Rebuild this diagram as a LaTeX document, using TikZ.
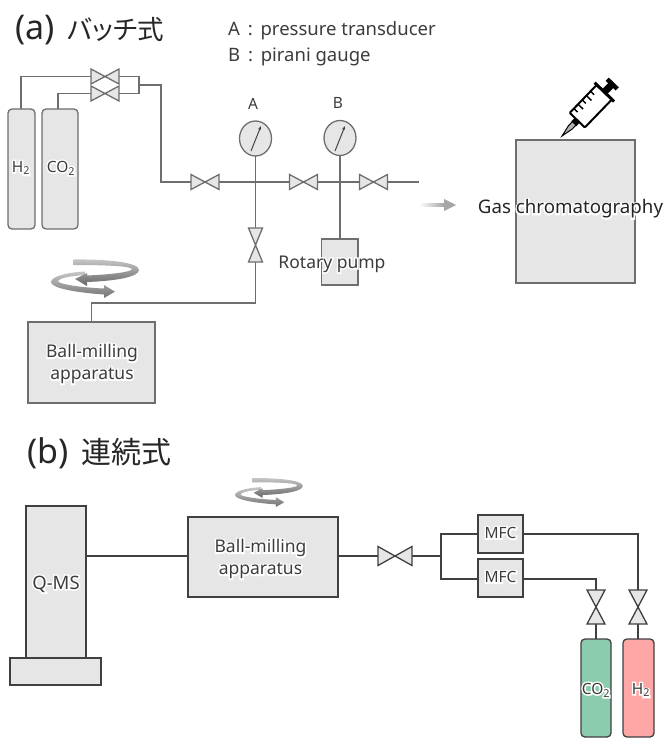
\documentclass[tikz,border=0pt]{standalone}
\usepackage{fontspec}
\setmainfont{Noto Sans}
\newfontfamily\cjk[RawFeature=+palt]{Noto Sans CJK JP}
\usetikzlibrary{arrows.meta,shadings}
\definecolor{pipeA}{HTML}{6E6E6E}
\definecolor{pipeB}{HTML}{404040}
\definecolor{boxfill}{HTML}{E6E6E6}
\definecolor{greencyl}{HTML}{8CCCAE}
\definecolor{redcyl}{HTML}{FFA6A6}
\definecolor{txtA}{HTML}{3C3C3C}
\newcommand{\halo}[1]{\leavevmode\rlap{\special{pdf:code q 1 1 1 rg 1 1 1 RG 2 Tr 3 w}#1\special{pdf:code Q}}#1}
\newcommand{\ttl}[3]{{\fontsize{34}{36}\selectfont #1}\hspace{13pt}{\cjk\fontsize{#3}{36}\selectfont #2}}
\tikzset{
  x=1pt,y=-1pt,
  pipea/.style={draw=pipeA,line width=1.4pt},
  pipeb/.style={draw=pipeB,line width=1.5pt},
  boxa/.style={draw=pipeA,line width=1.3pt,fill=boxfill},
  boxb/.style={draw=pipeB,line width=1.3pt,fill=boxfill},
  lab/.style={inner sep=0pt,text=txtA,align=center,font=\fontsize{17.5}{22}\selectfont},
  lab16/.style={inner sep=0pt,text=txtA,align=center,font=\fontsize{15.5}{18}\selectfont},
  small/.style={inner sep=0pt,text=txtA,font=\fontsize{15.5}{18}\selectfont},
  legend/.style={inner sep=0pt,anchor=west,text=txtA,font=\fontsize{18.5}{22}\selectfont},
  title/.style={inner sep=0pt,anchor=west,text=black!85},
}
\newcommand{\hvalve}[4]{\draw[#4] ({#1-#3},{#2-7.5}) -- ({#1+#3},{#2+7.5}) -- ({#1+#3},{#2-7.5}) -- ({#1-#3},{#2+7.5}) -- cycle;}
\newcommand{\hvalvebig}[4]{\draw[#4] ({#1-#3},{#2-9.5}) -- ({#1+#3},{#2+9.5}) -- ({#1+#3},{#2-9.5}) -- ({#1-#3},{#2+9.5}) -- cycle;}
\newcommand{\vvalve}[4]{\draw[#4] ({#1-#3},{#2-17}) -- ({#1+#3},{#2-17}) -- ({#1-#3},{#2+17}) -- ({#1+#3},{#2+17}) -- cycle;}
\newcommand{\swirl}[4]{% x,y,xscale,yscale
  \begin{scope}[shift={(#1,#2)},xscale=#3,yscale=#4]
   \shade[top color=black!22,bottom color=black!55]
     (40,21.5) .. controls (20,22.5) and (6,27) .. (6,32) .. controls (6,38) and (30,42.5) .. (59,44.5) -- (59,48) -- (70,41.7) -- (59,35) -- (59,38.5) .. controls (35,37.5) and (13,34) .. (13,31) .. controls (15,28) and (25,26) .. (40,25) -- cycle;
   \shade[top color=black!22,bottom color=black!60]
     (28.5,9.5) .. controls (60,9) and (94,12) .. (94,20) .. controls (94,27) and (70,31) .. (42,32) -- (42,36) -- (30,29) -- (42,23) -- (42,25.5) .. controls (65,24.5) and (87,22) .. (87,19) .. controls (85,16) and (60,15) .. (28.5,15) -- cycle;
  \end{scope}}
\begin{document}
\begin{tikzpicture}
\useasboundingbox (0,0) rectangle (665,738);
% ---- (a)
\node[title] (ta) at (15,30) {\ttl{(a)}{バッチ式}{26.5}};
\node[legend] (la) at (228,31) {A\hspace{3pt} : \hspace{3pt}pressure transducer};
\node[legend] (lb) at (228,57) {B\hspace{3pt} : \hspace{3pt}pirani gauge};
\node[small] (ga) at (253,104) {A};
\node[small] (gb) at (338,103) {B};
% pipes
\draw[pipea] (21,109) |- (91,76.5) (118,76.5) -- (139,76.5) -- (139,93.5) -- (118,93.5);
\draw[pipea] (91,93.5) -| (58,109);
\draw[pipea] (139,85) -- (161,85) -- (161,182) -- (419,182);
\draw[pipea] (255.5,156) -- (255.5,303) -- (91.5,303) -- (91.5,322);
\draw[pipea] (340,156) -- (340,239);
% valves
\hvalve{105}{76.5}{14}{boxa}
\hvalve{105}{93.5}{14}{boxa}
\hvalve{205}{182}{14}{boxa}
\hvalve{303.5}{182}{14}{boxa}
\hvalve{373.5}{182}{14}{boxa}
\vvalve{255.5}{245}{7}{boxa}
% cylinders
\draw[boxa,rounded corners=4pt] (8,109) rectangle (35,229);
\draw[boxa,rounded corners=4pt] (42,109) rectangle (78,229);
\node[lab16] (h2a) at (21,168) {\halo{H\textsubscript{2}}};
\node[lab16] (co2a) at (61,168) {\halo{CO\textsubscript{2}}};
% gauges
\draw[boxa] (255.5,138.5) ellipse [x radius=16,y radius=17.5];
\draw[boxa] (340,138) ellipse [x radius=16,y radius=17.5];
\draw[pipeB,line width=1pt,-{Stealth[length=4pt,width=3pt]}] (251,151) -- (261,126);
\draw[pipeB,line width=1pt,-{Stealth[length=4pt,width=3pt]}] (335,151) -- (345,126);
% boxes
\draw[boxa] (321.5,239) rectangle (358,285);
\draw[boxa] (28,322) rectangle (155,403);
\draw[boxa] (516,140) rectangle (635,283);
\node[lab] (rp) at (332,264) {\halo{Rotary pump}};
\node[lab] (bma) at (92,364) {\halo{Ball-milling}\\\halo{apparatus}};
\node[inner sep=0pt,text=black!85,font=\fontsize{18.7}{22}\selectfont] (gc) at (570.5,209) {\halo{Gas chromatography}};
% arrow
\shade[left color=white,right color=gray!70] (419,203.5) rectangle (444,206.5);
\fill[gray!70] (444,199) -- (456,205) -- (444,211) -- cycle;
% syringe
\begin{scope}[shift={(562,136)},rotate=46]
  \draw[black,line width=1pt,fill=gray!60] (0,0) -- (12,-2.5) -- (18,-2.5) -- (18,2.5) -- (12,2.5) -- cycle;
  \fill[black] (17,-3.5) rectangle (23,3.5);
  \draw[black,line width=2pt,fill=white,rounded corners=1pt] (22,-10.5) rectangle (61,10.5);
  \foreach \u/\l in {28/5,34/7,40/5,46/7,52/5}
    \draw[black,line width=1.5pt] (\u,-10.5) -- (\u,-10.5+\l);
  \fill[black] (61,-3.5) rectangle (72,3.5);
  \fill[black] (70,-7) rectangle (74.5,7);
  \fill[black] (59.5,-13.5) rectangle (62.5,13.5);
\end{scope}
% swirl a
\swirl{45}{250}{1}{1}
% ---- (b)
\node[title] (tb) at (27,453) {\ttl{(b)}{連続式}{30}};
\draw[boxb] (26,506) rectangle (86,658);
\draw[boxb] (10,658) rectangle (101,685);
\node[lab,font=\fontsize{18.5}{22}\selectfont] (qms) at (56,584) {\halo{Q-MS}};
\draw[boxb] (188,517) rectangle (338,597);
\node[lab] (bmb) at (260.5,559) {\halo{Ball-milling}\\\halo{apparatus}};
\swirl{230.4}{471}{0.77}{0.75}
\draw[pipeb] (86,556) -- (188,556) (338,556) -- (441,556);
\draw[pipeb] (478,534) -- (441,534) -- (441,579) -- (478,579);
\draw[pipeb] (523,534) -- (638,534) -- (638,639);
\draw[pipeb] (523,579) -- (596,579) -- (596,639);
\hvalvebig{395}{556}{17}{boxb}
\vvalve{596}{607}{9}{boxb}
\vvalve{638}{607}{9}{boxb}
\draw[boxb] (478,515) rectangle (523,553);
\draw[boxb] (478,559) rectangle (523,597);
\node[lab16] (m1) at (500.5,533) {\halo{MFC}};
\node[lab16] (m2) at (500.5,577) {\halo{MFC}};
\draw[pipeB,line width=1.3pt,fill=greencyl,rounded corners=4pt] (581,639) rectangle (611,737);
\draw[pipeB,line width=1.3pt,fill=redcyl,rounded corners=4pt] (623,639) rectangle (654,737);
\node[lab16] (co2b) at (596,690) {\halo{CO\textsubscript{2}}};
\node[lab16] (h2b) at (641,690) {\halo{H\textsubscript{2}}};
\end{tikzpicture}
\end{document}
